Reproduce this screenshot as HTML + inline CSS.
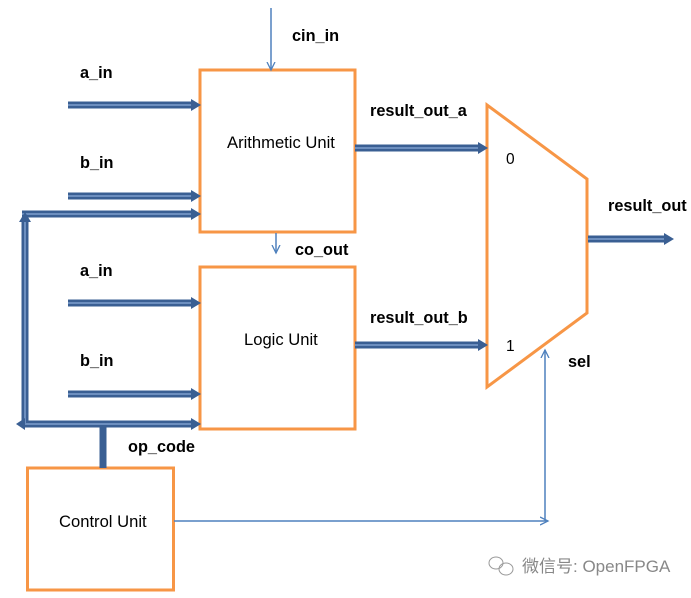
<!DOCTYPE html>
<html><head><meta charset="utf-8"><style>
html,body{margin:0;padding:0;background:#fff;}
svg{display:block;}
text{font-family:"Liberation Sans","Noto Sans CJK SC",sans-serif;fill:#000;}
.b{font-weight:bold;font-size:16.3px;}
.n{font-size:16.6px;}
</style></head><body>
<svg width="691" height="598" viewBox="0 0 691 598" xmlns="http://www.w3.org/2000/svg">
<defs>
<marker id="ta" markerWidth="10" markerHeight="10" refX="8" refY="5" orient="auto" markerUnits="userSpaceOnUse">
<path d="M0,1 L8,5 L0,9" fill="none" stroke="#4f81bd" stroke-width="1.3"/>
</marker>
</defs>
<g fill="none" stroke="#f79646" stroke-width="3">
<rect x="200" y="70" width="155" height="162"/>
<rect x="200" y="267" width="155" height="162"/>
<rect x="27.5" y="468" width="146" height="122"/>
<polygon points="487,105 587,179 587,313 487,387"/>
</g>
<g stroke="#3a5f93" stroke-width="7" fill="none">
<line x1="68" y1="105" x2="193" y2="105"/>
<line x1="68" y1="196" x2="193" y2="196"/>
<line x1="22" y1="214" x2="193" y2="214"/>
<line x1="68" y1="303" x2="193" y2="303"/>
<line x1="68" y1="394" x2="193" y2="394"/>
<line x1="23" y1="424" x2="193" y2="424"/>
<line x1="25" y1="222" x2="25" y2="424"/>
<line x1="103" y1="424" x2="103" y2="468"/>
<line x1="355" y1="148" x2="480" y2="148"/>
<line x1="355" y1="345" x2="480" y2="345"/>
<line x1="588" y1="239" x2="666" y2="239"/>
</g>
<g stroke="#6d8fbf" stroke-width="2" fill="none">
<line x1="68" y1="105" x2="193" y2="105"/>
<line x1="68" y1="196" x2="193" y2="196"/>
<line x1="22" y1="214" x2="193" y2="214"/>
<line x1="68" y1="303" x2="193" y2="303"/>
<line x1="68" y1="394" x2="193" y2="394"/>
<line x1="23" y1="424" x2="193" y2="424"/>
<line x1="25" y1="222" x2="25" y2="424"/>
<line x1="355" y1="148" x2="480" y2="148"/>
<line x1="355" y1="345" x2="480" y2="345"/>
<line x1="588" y1="239" x2="666" y2="239"/>
</g>
<g fill="#3a5f93">
<polygon points="191,99 201,105 191,111"/>
<polygon points="191,190 201,196 191,202"/>
<polygon points="191,208 201,214 191,220"/>
<polygon points="191,297 201,303 191,309"/>
<polygon points="191,388 201,394 191,400"/>
<polygon points="191,418 201,424 191,430"/>
<polygon points="25,424 25,418 16,424 25,430"/>
<polygon points="19,222 25,212 31,222"/>
<polygon points="478,142 488,148 478,154"/>
<polygon points="478,339 488,345 478,351"/>
<polygon points="664,233 674,239 664,245"/>
</g>
<g stroke="#4f81bd" stroke-width="1.5" fill="none">
<line x1="271" y1="8" x2="271" y2="70" marker-end="url(#ta)"/>
<line x1="276" y1="233" x2="276" y2="253" marker-end="url(#ta)"/>
<line x1="174" y1="521" x2="548" y2="521" marker-end="url(#ta)"/>
<line x1="545" y1="521" x2="545" y2="350" marker-end="url(#ta)"/>
</g>
<text class="b" x="80" y="78">a_in</text>
<text class="b" x="80" y="168">b_in</text>
<text class="b" x="292" y="41">cin_in</text>
<text class="b" x="370" y="116">result_out_a</text>
<text class="b" x="295" y="255">co_out</text>
<text class="b" x="80" y="276">a_in</text>
<text class="b" x="80" y="366">b_in</text>
<text class="b" x="370" y="323">result_out_b</text>
<text class="b" x="128" y="452">op_code</text>
<text class="b" x="568" y="367">sel</text>
<text class="b" x="608" y="211">result_out</text>
<text x="506" y="164" font-size="15.5">0</text>
<text x="506" y="351" font-size="15.5">1</text>
<text class="n" x="227" y="148">Arithmetic Unit</text>
<text class="n" x="244" y="345">Logic Unit</text>
<text class="n" x="59" y="527">Control Unit</text>
<g stroke="#999" fill="none" stroke-width="1">
<ellipse cx="496" cy="563" rx="7" ry="6"/>
<ellipse cx="506" cy="569" rx="7" ry="6"/>
</g>
<text x="522" y="572" font-size="17" style="fill:#888">微信号: OpenFPGA</text>
</svg>
</body></html>
